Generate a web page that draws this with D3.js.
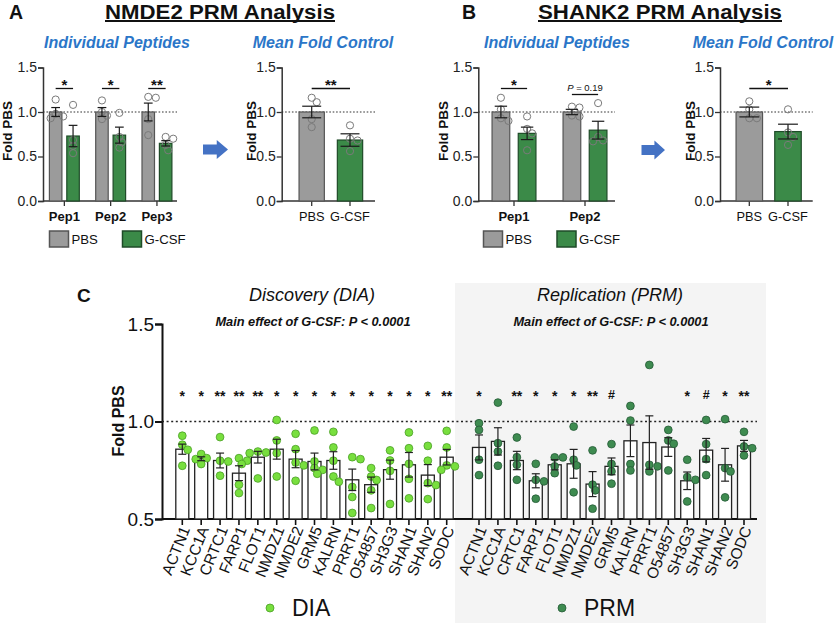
<!DOCTYPE html>
<html><head><meta charset="utf-8">
<script src="https://cdn.jsdelivr.net/npm/d3@7"></script>
<style>body{margin:0;background:#fff}svg{display:block;font-family:"Liberation Sans",Arial,sans-serif}</style>
</head><body>
<svg id="c" width="837" height="623"></svg>
<script>
// ---------- DATA ----------
const groupsTreat = ["PBS", "G-CSF"];
// Panel A: NMDE2 individual peptides
const nmdePeptides = ["Pep1", "Pep2", "Pep3"];
const nmdePbsMean = [1.0, 1.0, 1.0];
const nmdePbsSem = [0.05, 0.05, 0.10];
const nmdePbsPoints = [[1.14, 0.98, 0.95, 0.93], [1.13, 1.0, 0.96, 0.92], [1.17, 1.16, 0.92, 0.74]];
const nmdeGcsfMean = [0.73, 0.74, 0.648];
const nmdeGcsfSem = [0.12, 0.09, 0.03];
const nmdeGcsfPoints = [[1.08, 0.685, 0.62, 0.537], [0.99, 0.72, 0.66, 0.60], [0.72, 0.70, 0.63, 0.57]];
const nmdeSig = ["*", "*", "**"];
// Panel A: mean fold control
const nmdeMeanVals = [1.0, 0.685];
const nmdeMeanSem = [0.065, 0.07];
const nmdeMeanPoints = [[1.16, 1.11, 0.92, 0.83], [0.85, 0.70, 0.68, 0.56]];
const nmdeMeanSig = "**";
// Panel B: SHANK2 individual peptides
const shankPeptides = ["Pep1", "Pep2"];
const shankPbsMean = [1.0, 1.0];
const shankPbsSem = [0.065, 0.03];
const shankPbsPoints = [[1.16, 1.03, 0.93, 0.90], [1.06, 1.05, 0.96, 0.95]];
const shankGcsfMean = [0.76, 0.796];
const shankGcsfSem = [0.07, 0.10];
const shankGcsfPoints = [[0.95, 0.81, 0.76, 0.57], [1.10, 0.72, 0.68, 0.67]];
const shankSig = ["*", "P = 0.19"];
// Panel B: mean fold control
const shankMeanVals = [1.0, 0.78];
const shankMeanSem = [0.055, 0.083];
const shankMeanPoints = [[1.12, 1.03, 0.93, 0.93], [1.03, 0.77, 0.72, 0.63]];
const shankMeanSig = "*";
// Panel C
const genes = ["ACTN1","KCC1A","CRTC1","FARP1","FLOT1","NMDZ1","NMDE2","GRM5","KALRN","PRRT1","O54857","SH3G3","SHAN1","SHAN2","SODC"];
const diaMean = [0.858,0.809,0.80,0.735,0.817,0.858,0.807,0.795,0.80,0.701,0.676,0.753,0.778,0.725,0.817];
const diaSem  = [0.026,0.010,0.038,0.038,0.030,0.051,0.044,0.043,0.045,0.055,0.039,0.049,0.063,0.054,0.040];
const diaPoints = [
  [0.927,0.881,0.855,0.773],[0.833,0.812,0.807,0.782],[0.920,0.799,0.795,0.722],
  [0.812,0.799,0.782,0.676,0.633],[0.846,0.841,0.838,0.708],[1.008,0.903,0.838,0.718],
  [0.937,0.858,0.790,0.775,0.696],[0.954,0.795,0.761,0.752,0.732],[0.947,0.867,0.799,0.718,0.691],
  [0.817,0.807,0.664,0.613,0.531],[0.761,0.718,0.700,0.647,0.556],[0.852,0.800,0.747,0.577],
  [0.944,0.863,0.783,0.706,0.606],[0.875,0.799,0.684,0.674,0.602],[0.952,0.867,0.775,0.770,0.752]];
const diaSig = ["*","*","**","**","**","*","*","*","*","*","*","*","*","*","**"];
const prmMean = [0.867,0.898,0.80,0.696,0.778,0.783,0.679,0.770,0.901,0.892,0.869,0.696,0.853,0.778,0.875];
const prmSem  = [0.064,0.070,0.047,0.036,0.026,0.074,0.064,0.043,0.081,0.137,0.048,0.045,0.060,0.084,0.028];
const prmPoints = [
  [0.991,0.957,0.804,0.725],[1.097,0.889,0.846,0.773],[0.918,0.817,0.778,0.701],
  [0.783,0.701,0.693,0.604],[0.816,0.816,0.770,0.735],[0.974,0.804,0.775,0.637],
  [0.852,0.676,0.647,0.553],[0.884,0.782,0.744,0.681],[1.080,1.005,0.782,0.749],
  [1.290,0.778,0.770,0.744],[0.957,0.903,0.886,0.749],[0.804,0.715,0.701,0.590],
  [1.008,0.884,0.807,0.725],[1.012,0.761,0.744,0.611],[0.947,0.872,0.863,0.826]];
const prmSig = ["*","","**","*","*","*","**","#","","","","*","#","*","**"];
const yTicksSmall = [0, 0.5, 1.0, 1.5];
const yTicksC = [0.5, 1.0, 1.5];

// ---------- STYLE ----------
const GRAY = "#9b9b9b", GRAY_S = "#555", GREEN = "#3b8a48", GREEN_S = "#1f4b28";
const BLUE = "#2b76c8", ARROW = "#4472c4";
const DIA_F = "#78df3e", DIA_S = "#4a9e26", PRM_F = "#3e8b50", PRM_S = "#255a36";
const svg = d3.select("#c");

function dodge(vals, y, r) {
  const placed = [];
  return vals.map(v => {
    const py = y(v); let off = 0;
    for (let k = 0; k < 30; k++) {
      const c = k === 0 ? 0 : (k % 2 ? 1 : -1) * Math.ceil(k / 2) * r * 0.7;
      if (placed.every(p => Math.hypot(p.x - c, p.y - py) >= 2 * r * 0.8)) { off = c; break; }
    }
    placed.push({x: off, y: py});
    return off;
  });
}

function smallAxes(g, y, x0, x1) {
  const ax = g.append("g").attr("transform", `translate(${x0},0)`)
    .call(d3.axisLeft(y).tickValues(yTicksSmall).tickFormat(d3.format(".1f")).tickSize(5));
  ax.select(".domain").attr("stroke", "#333").attr("stroke-width", 1.5);
  ax.selectAll(".tick line").attr("stroke", "#333").attr("stroke-width", 1.3);
  ax.selectAll("text").attr("font-size", 14).attr("fill", "#222").attr("x", -6);
  g.append("line").attr("x1", x0).attr("x2", x1).attr("y1", y(0)).attr("y2", y(0)).attr("stroke", "#333").attr("stroke-width", 1.5);
  g.append("line").attr("x1", x0).attr("x2", x1).attr("y1", y(1)).attr("y2", y(1))
    .attr("stroke", "#333").attr("stroke-width", 1.2).attr("stroke-dasharray", "1.6,1.8");
}

function drawBar(g, cx, w, y, mean, sem, pts, fill, stroke, capW) {
  g.append("rect").attr("x", cx - w / 2).attr("y", y(mean)).attr("width", w).attr("height", y(0) - y(mean))
    .attr("fill", fill).attr("stroke", stroke).attr("stroke-width", 1.2);
  const offs = dodge(pts, y, 3.6);
  g.selectAll(null).data(pts).enter().append("circle")
    .attr("cx", (d, i) => cx + offs[i]).attr("cy", d => y(d)).attr("r", 3.6)
    .attr("fill", "none").attr("stroke", "#7a7a7a").attr("stroke-width", 1);
  const e = g.append("g").attr("stroke", "#1a1a1a").attr("stroke-width", 1.2);
  e.append("line").attr("x1", cx).attr("x2", cx).attr("y1", y(mean + sem)).attr("y2", y(mean - sem));
  e.append("line").attr("x1", cx - capW / 2).attr("x2", cx + capW / 2).attr("y1", y(mean + sem)).attr("y2", y(mean + sem));
  e.append("line").attr("x1", cx - capW / 2).attr("x2", cx + capW / 2).attr("y1", y(mean - sem)).attr("y2", y(mean - sem));
}

function sig(g, xa, xb, yb, label) {
  g.append("line").attr("x1", xa).attr("x2", xb).attr("y1", yb).attr("y2", yb).attr("stroke", "#111").attr("stroke-width", 1.3);
  if (label.startsWith("P")) {
    const t = g.append("text").attr("x", (xa + xb) / 2).attr("y", yb - 4).attr("text-anchor", "middle").attr("font-size", 9.5).attr("fill", "#111");
    t.append("tspan").attr("font-style", "italic").text("P");
    t.append("tspan").text(label.slice(1));
  } else {
    g.append("text").attr("x", (xa + xb) / 2).attr("y", yb + 1.5).attr("text-anchor", "middle")
      .attr("font-size", 15).attr("font-weight", "bold").attr("fill", "#111").text(label);
  }
}

function yLabel(g, x, yc, size) {
  g.append("text").attr("transform", `translate(${x},${yc}) rotate(-90)`).attr("text-anchor", "middle")
    .attr("font-size", size).attr("font-weight", "bold").attr("fill", "#111").text("Fold PBS");
}

function peptideChart(cfg) {
  const g = svg.append("g");
  const y = d3.scaleLinear().domain([0, 1.5]).range([201, 67.5]);
  const x = d3.scaleBand().domain(cfg.peps).range(cfg.range);
  smallAxes(g, y, cfg.axisX, cfg.xEnd);
  cfg.peps.forEach((p, i) => {
    const c = x(p) + x.bandwidth() / 2;
    g.append("line").attr("x1", c).attr("x2", c).attr("y1", y(0)).attr("y2", y(0) + 5).attr("stroke", "#333").attr("stroke-width", 1.3);
    const cp = c - cfg.off, cg = c + cfg.off;
    drawBar(g, cp, cfg.bw, y, cfg.pbsMean[i], cfg.pbsSem[i], cfg.pbsPts[i], GRAY, GRAY_S, cfg.bw * 0.7);
    drawBar(g, cg, cfg.bw, y, cfg.gMean[i], cfg.gSem[i], cfg.gPts[i], GREEN, GREEN_S, cfg.bw * 0.7);
    const lab = cfg.sig[i];
    sig(g, cp, cg, lab.startsWith("P") ? 94.5 : 88.5, lab);
    g.append("text").attr("x", c).attr("y", 220.5).attr("text-anchor", "middle").attr("font-size", 13)
      .attr("font-weight", "bold").attr("fill", "#111").text(p);
  });
  // legend
  groupsTreat.forEach((t, i) => {
    const lx = cfg.legX[i];
    g.append("rect").attr("x", lx).attr("y", 231).attr("width", 19).attr("height", 16)
      .attr("fill", i ? GREEN : GRAY).attr("stroke", i ? GREEN_S : GRAY_S).attr("stroke-width", 1.5);
    g.append("text").attr("x", lx + 22).attr("y", 244).attr("font-size", 13.2).attr("fill", "#111").text(t);
  });
  yLabel(g, cfg.labX, 131, 13.5);
}

function meanChart(cfg) {
  const g = svg.append("g");
  const y = d3.scaleLinear().domain([0, 1.5]).range([201, 67.5]);
  const x = d3.scalePoint().domain(groupsTreat).range(cfg.centers);
  smallAxes(g, y, cfg.axisX, cfg.xEnd);
  groupsTreat.forEach((t, i) => {
    const c = x(t);
    g.append("line").attr("x1", c).attr("x2", c).attr("y1", y(0)).attr("y2", y(0) + 5).attr("stroke", "#333").attr("stroke-width", 1.3);
    drawBar(g, c, cfg.bw, y, cfg.vals[i], cfg.sem[i], cfg.pts[i], i ? GREEN : GRAY, i ? GREEN_S : GRAY_S, cfg.bw * 0.75);
    g.append("text").attr("x", c).attr("y", 220.5).attr("text-anchor", "middle").attr("font-size", 12.8).attr("fill", "#111").text(t);
  });
  sig(g, x("PBS"), x("G-CSF"), 88.5, cfg.sig);
  yLabel(g, cfg.labX, 131, 13.5);
}

function arrow(x0, x1, yc) {
  const sh = 5, hh = 9.5, hx = x0 + (x1 - x0) * 0.55;
  svg.append("path").attr("d", `M${x0},${yc - sh}L${hx},${yc - sh}L${hx},${yc - hh}L${x1},${yc}L${hx},${yc + hh}L${hx},${yc + sh}L${x0},${yc + sh}Z`)
    .attr("fill", ARROW);
}

function headers(letter, lx, title, tx, tw, subL, subR) {
  svg.append("text").attr("x", lx).attr("y", 18.5).attr("font-size", 19.5).attr("font-weight", "bold").attr("fill", "#111").text(letter);
  svg.append("text").attr("x", tx).attr("y", 18.5).attr("text-anchor", "middle").attr("font-size", 19.5).attr("font-weight", "bold")
    .attr("fill", "#111").attr("textLength", tw).attr("lengthAdjust", "spacingAndGlyphs").text(title);
  svg.append("line").attr("x1", tx - tw / 2).attr("x2", tx + tw / 2).attr("y1", 21).attr("y2", 21).attr("stroke", "#111").attr("stroke-width", 1.8);
  [[subL, "Individual Peptides"], [subR, "Mean Fold Control"]].forEach(([cx, s]) =>
    svg.append("text").attr("x", cx).attr("y", 48).attr("text-anchor", "middle").attr("font-size", 16)
      .attr("font-weight", "bold").attr("font-style", "italic").attr("fill", BLUE).text(s));
}

// ---------- PANEL A ----------
headers("A", 9, "NMDE2 PRM Analysis", 220, 230, 117, 323);
peptideChart({peps: nmdePeptides, range: [41.2, 180.1], axisX: 43, xEnd: 177, bw: 12.5, off: 8.7,
  pbsMean: nmdePbsMean, pbsSem: nmdePbsSem, pbsPts: nmdePbsPoints, gMean: nmdeGcsfMean, gSem: nmdeGcsfSem, gPts: nmdeGcsfPoints,
  sig: nmdeSig, legX: [49.5, 122.5], labX: 11.5});
meanChart({centers: [311.7, 350], axisX: 281.7, xEnd: 375, bw: 25.3, vals: nmdeMeanVals, sem: nmdeMeanSem, pts: nmdeMeanPoints, sig: nmdeMeanSig, labX: 256});
arrow(203, 228, 149.5);

// ---------- PANEL B ----------
headers("B", 462, "SHANK2 PRM Analysis", 660, 244, 557, 763);
peptideChart({peps: shankPeptides, range: [478.5, 620.5], axisX: 478.3, xEnd: 615, bw: 17.7, off: 13.1,
  pbsMean: shankPbsMean, pbsSem: shankPbsSem, pbsPts: shankPbsPoints, gMean: shankGcsfMean, gSem: shankGcsfSem, gPts: shankGcsfPoints,
  sig: shankSig, legX: [483.5, 557], labX: 448});
meanChart({centers: [749.3, 788], axisX: 720, xEnd: 812.7, bw: 26.5, vals: shankMeanVals, sem: shankMeanSem, pts: shankMeanPoints, sig: shankMeanSig, labX: 694.5});
arrow(641.5, 665, 150);

// ---------- PANEL C ----------
const gc = svg.append("g");
gc.append("rect").attr("x", 455).attr("y", 283).attr("width", 311).attr("height", 340).attr("fill", "#f4f4f4");
const yC = d3.scaleLinear().domain([0.5, 1.5]).range([519, 324]);
const xDia = d3.scalePoint().domain(genes).range([182.3, 446.7]);
const xPrm = d3.scalePoint().domain(genes).range([479, 744]);
const axC = gc.append("g").attr("transform", "translate(162,0)")
  .call(d3.axisLeft(yC).tickValues(yTicksC).tickFormat(d3.format(".1f")).tickSize(7));
axC.select(".domain").attr("stroke", "#111").attr("stroke-width", 2);
axC.selectAll(".tick line").attr("stroke", "#111").attr("stroke-width", 2);
axC.selectAll("text").attr("font-size", 19).attr("fill", "#111").attr("x", -8);
gc.append("line").attr("x1", 162).attr("x2", 757).attr("y1", yC(0.5)).attr("y2", yC(0.5)).attr("stroke", "#111").attr("stroke-width", 2);
gc.append("line").attr("x1", 162).attr("x2", 757).attr("y1", yC(1)).attr("y2", yC(1)).attr("stroke", "#222").attr("stroke-width", 1.6).attr("stroke-dasharray", "2,2.6");

function cSeries(x, means, sems, pts, sigs, fill, stroke) {
  genes.forEach((gn, i) => {
    const c = x(gn), w = 13;
    gc.append("line").attr("x1", c).attr("x2", c).attr("y1", yC(0.5)).attr("y2", yC(0.5) + 6).attr("stroke", "#111").attr("stroke-width", 1.6);
    gc.append("rect").attr("x", c - w / 2).attr("y", yC(means[i])).attr("width", w).attr("height", yC(0.5) - yC(means[i]))
      .attr("fill", "#fff").attr("stroke", "#222").attr("stroke-width", 1.3);
    const offs = dodge(pts[i], yC, 3.9);
    gc.selectAll(null).data(pts[i]).enter().append("circle")
      .attr("cx", (d, k) => c + offs[k]).attr("cy", d => yC(d)).attr("r", 3.9)
      .attr("fill", fill).attr("stroke", stroke).attr("stroke-width", 0.8);
    const e = gc.append("g").attr("stroke", "#222").attr("stroke-width", 1.2);
    const top = yC(means[i] + sems[i]), bot = yC(means[i] - sems[i]);
    e.append("line").attr("x1", c).attr("x2", c).attr("y1", top).attr("y2", bot);
    e.append("line").attr("x1", c - 4).attr("x2", c + 4).attr("y1", top).attr("y2", top);
    e.append("line").attr("x1", c - 4).attr("x2", c + 4).attr("y1", bot).attr("y2", bot);
    if (sigs[i]) gc.append("text").attr("x", c).attr("y", sigs[i] === "#" ? 399 : 401).attr("text-anchor", "middle")
      .attr("font-size", sigs[i] === "#" ? 12.5 : 14).attr("font-weight", "bold").attr("fill", "#111").text(sigs[i]);
    gc.append("text").attr("transform", `translate(${c + 3},${527}) rotate(-68)`).attr("text-anchor", "end").attr("dy", "0.35em")
      .attr("font-size", 15.5).attr("fill", "#111").text(gn);
  });
}
cSeries(xDia, diaMean, diaSem, diaPoints, diaSig, DIA_F, DIA_S);
cSeries(xPrm, prmMean, prmSem, prmPoints, prmSig, PRM_F, PRM_S);

gc.append("text").attr("x", 77).attr("y", 302).attr("font-size", 19).attr("font-weight", "bold").attr("fill", "#111").text("C");
[[312, "Discovery (DIA)"], [610, "Replication (PRM)"]].forEach(([cx, t]) => {
  gc.append("text").attr("x", cx).attr("y", 301).attr("text-anchor", "middle").attr("font-size", 18).attr("font-style", "italic").attr("fill", "#111").text(t);
  gc.append("text").attr("x", cx + 1).attr("y", 326).attr("text-anchor", "middle").attr("font-size", 12.8).attr("font-style", "italic")
    .attr("font-weight", "bold").attr("fill", "#111").text("Main effect of G-CSF: P < 0.0001");
});
yLabel(gc, 124, 421, 16);
[[270, "DIA", DIA_F, DIA_S], [562, "PRM", PRM_F, PRM_S]].forEach(([lx, t, f, s]) => {
  gc.append("circle").attr("cx", lx).attr("cy", 608).attr("r", 4).attr("fill", f).attr("stroke", s).attr("stroke-width", 0.8);
  gc.append("text").attr("x", lx + 22).attr("y", 616).attr("font-size", 23).attr("fill", "#111").text(t);
});
</script>
</body></html>
